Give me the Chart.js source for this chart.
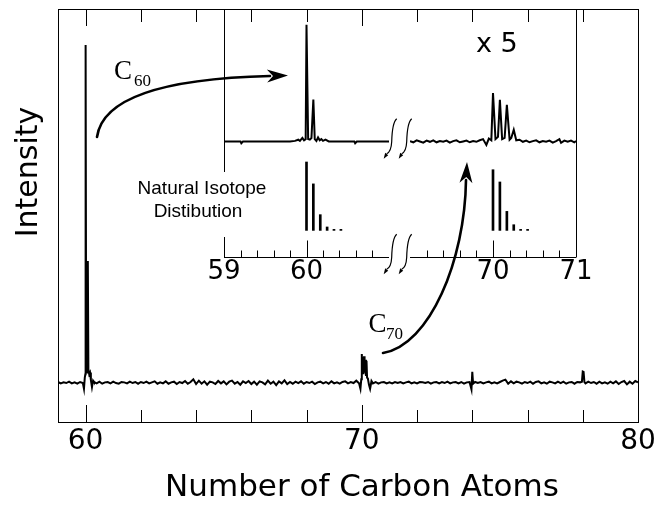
<!DOCTYPE html>
<html>
<head>
<meta charset="utf-8">
<script src="https://cdn.jsdelivr.net/npm/chart.js@4/dist/chart.umd.min.js"></script>
<style>
  body { margin: 0; background: #fff; }
  #wrap { position: relative; width: 659px; height: 508px; }
  canvas { position: absolute; top: 0; }
</style>
</head>
<body>
<div id="wrap">
  <canvas id="main" width="659" height="508" style="left:0"></canvas>
  <canvas id="insetL" width="215" height="300" style="left:190px"></canvas>
  <canvas id="insetR" width="215" height="300" style="left:395px"></canvas>
</div>
<script>
// main spectrum (number of carbon atoms vs intensity, C60 peak = 100)
const mainX = [
  59.0, 59.1, 59.2, 59.3, 59.4, 59.5, 59.6, 59.7, 59.8, 59.9,
  59.94, 59.97, 59.99, 60.0, 60.02, 60.04, 60.06, 60.08, 60.1, 60.13, 60.16, 60.19, 60.23, 60.27,
  60.3, 60.4, 60.5, 60.6, 60.7, 60.8, 60.9,
  61.0, 61.1, 61.2, 61.3, 61.4, 61.5, 61.6, 61.7, 61.8, 61.9,
  62.0, 62.1, 62.2, 62.3, 62.4, 62.5, 62.6, 62.7, 62.8, 62.9,
  63.0, 63.1, 63.2, 63.3, 63.4, 63.5, 63.6, 63.7, 63.8, 63.9,
  64.0, 64.1, 64.2, 64.3, 64.4, 64.5, 64.6, 64.7, 64.8, 64.9,
  65.0, 65.1, 65.2, 65.3, 65.4, 65.5, 65.6, 65.7, 65.8, 65.9,
  66.0, 66.1, 66.2, 66.3, 66.4, 66.5, 66.6, 66.7, 66.8, 66.9,
  67.0, 67.1, 67.2, 67.3, 67.4, 67.5, 67.6, 67.7, 67.8, 67.9,
  68.0, 68.1, 68.2, 68.3, 68.4, 68.5, 68.6, 68.7, 68.8, 68.9,
  69.0, 69.1, 69.2, 69.3, 69.4, 69.5, 69.6, 69.7, 69.8, 69.9,
  69.95, 69.98, 70.0, 70.02, 70.04, 70.06, 70.08, 70.1, 70.13, 70.15, 70.17, 70.19, 70.22, 70.26, 70.3, 70.35,
  70.4, 70.5, 70.6, 70.7, 70.8, 70.9,
  71.0, 71.1, 71.2, 71.3, 71.4, 71.5, 71.6, 71.7, 71.8, 71.9,
  72.0, 72.1, 72.2, 72.3, 72.4, 72.5, 72.6, 72.7, 72.8, 72.9,
  73.0, 73.1, 73.2, 73.3, 73.4, 73.5, 73.6, 73.7, 73.8, 73.9,
  73.97, 74.0, 74.03,
  74.1, 74.2, 74.3, 74.4, 74.5, 74.6, 74.7, 74.8, 74.9,
  75.0, 75.1, 75.2, 75.3, 75.4, 75.5, 75.6, 75.7, 75.8, 75.9,
  76.0, 76.1, 76.2, 76.3, 76.4, 76.5, 76.6, 76.7, 76.8, 76.9,
  77.0, 77.1, 77.2, 77.3, 77.4, 77.5, 77.6, 77.7, 77.8, 77.9,
  77.97, 78.0, 78.03, 78.06,
  78.1, 78.2, 78.3, 78.4, 78.5, 78.6, 78.7, 78.8, 78.9,
  79.0, 79.1, 79.2, 79.3, 79.4, 79.5, 79.6, 79.7, 79.8, 79.9,
  80.0
];
const mainY = [
  0.2, -0.2, 0.1, -0.1, 0.3, -0.2, 0.1, -0.3, 0.2, -0.1,
  -1.8, 1.5, 2.5, 100, 4, 6, 3, 36, 4, 2.5, 3, 0.8, -1.3, 0.6,
  0.2, -0.2, 0.3, -0.3, 0.1, 0.2, -0.2,
  0.3, -0.1, -0.3, 0.2, 0.1, -0.2, 0.3, -0.1, 0.2, -0.3,
  0.2, -0.1, 0.3, -0.2, 0.1, 0.4, -0.3, 0.1, -0.2, 0.4,
  -0.3, 0.1, 0.3, -0.4, 0.2, -0.1, 0.5, -0.3, 0.2, 1.0,
  -0.4, 0.6, -0.3, 0.4, -0.6, 0.3, 0.1, -0.4, 0.5, -0.2,
  0.4, -0.5, 0.3, 0.6, -0.3, 0.2, -0.6, 0.4, -0.1, 0.5,
  -0.4, 0.3, -0.6, 0.4, 0.1, -0.5, 0.6, -0.3, 0.3, -0.7,
  0.4, -0.2, 0.7, -0.4, 0.2, -0.3, 0.3, -0.1, 0.4, -0.3,
  0.2, -0.1, 0.3, -0.4, 0.1, 0.3, -0.2, 0.2, -0.3, 0.4,
  -0.2, 0.1, -0.3, 0.2, 0.4, -0.2, 0.2, -0.1, 0.6, -0.2,
  -1.8, 1.0, 8.5, 3, 7.5, 2.5, 7.8, 3, 6.8, 2, 6.5, 1.5, 1.2, -0.6, -1.8, 0.5,
  -0.2, 0.2, -0.3, 0.1, 0.2, -0.2,
  0.1, -0.2, 0.2, -0.1, 0.2, -0.2, 0.1, 0.3, -0.2, 0.1,
  -0.2, 0.2, 0.1, -0.1, 0.2, -0.3, 0.1, 0.2, -0.2, 0.2,
  -0.1, 0.3, -0.2, 0.1, 0.2, -0.2, 0.2, -0.3, 0.1, 0.2,
  -2.0, 3.2, -0.3,
  0.2, -0.1, 0.2, -0.2, 0.1, 0.3, -0.2, 0.1, -0.2,
  0.2, 0.6, 0.9, -0.3, 0.4, -0.2, 0.3, 0.1, -0.3, 0.2,
  -0.1, 0.3, -0.3, 0.2, 0.4, -0.2, 0.1, -0.3, 0.3, 0.1,
  -0.2, 0.3, -0.1, 0.3, -0.3, 0.1, 0.2, -0.3, 0.2, 0.1,
  0.3, 3.3, 3.2, 0.2,
  -0.2, 0.3, -0.1, 0.2, -0.3, 0.3, -0.2, 0.1, -0.3,
  0.3, -0.2, 0.4, -0.4, 0.2, 0.5, -0.5, 0.3, -0.3, 0.5,
  0.1
];
const xTicks = [60, 62, 64, 66, 68, 70, 72, 74, 76, 78, 80];
const xLabels = [60, 70, 80];

// inset, measured trace (x 5), left part 59-61 and right part 69-71
const insetLeftX = [59.0, 59.2, 59.21, 59.23, 59.5, 59.8, 59.86, 59.9, 59.92, 59.95, 59.97, 59.99,
  60.0, 60.02, 60.04, 60.06, 60.083, 60.1, 60.12, 60.14, 60.16, 60.18, 60.2, 60.23, 60.27, 60.3,
  60.5, 60.58, 60.59, 60.61, 61.0];
const insetLeftY = [0, 0, -1.5, 0, 0, 0, 0.5, 1.5, 0.5, 3, 1, 2,
  100, 2, 1.5, 3, 36, 2, 0.5, 3.5, 1, 2, 0.5, 1.5, 0, 0,
  0, 0, -1.5, 0, 0];
const insetRightX = [
  69.0, 69.04, 69.08, 69.12, 69.16, 69.2, 69.24, 69.28, 69.32, 69.36,
  69.4, 69.44, 69.48, 69.52, 69.56, 69.6, 69.64, 69.68, 69.72, 69.76,
  69.8, 69.84, 69.88, 69.92, 69.95, 69.98, 70.0, 70.03, 70.06, 70.083,
  70.11, 70.14, 70.167, 70.2, 70.22, 70.25, 70.28, 70.32, 70.36, 70.4,
  70.44, 70.48, 70.52, 70.56, 70.6, 70.64, 70.68, 70.72, 70.76, 70.8,
  70.82, 70.86, 70.9, 70.94, 70.98, 71.0
];
const insetRightY = [
  0.3, -0.7, 1, 0, -1, 0.7, -0.3, 1, -0.7, 0.3,
  -0.3, 0.7, -1, 0.3, 1, -0.7, 0, 0.7, -0.7, 0.3,
  -0.3, 1, 2, -3, 2.5, 1, 41.5, 2, 4, 35.7,
  2, 3, 31.4, 1.5, 3, 10, 1, 1.5, -0.3, 0.7,
  -0.7, 0.3, 1, -0.7, 0.3, -0.3, 0.7, -1, 0.3, 2,
  -1.2, 0.7, -0.3, 0.7, -0.7, 0.3
];

// inset, natural isotope distribution sticks
const isoC60X = [60, 60.083, 60.167, 60.25, 60.333, 60.417];
const isoC60Y = [100, 68, 23, 5, 1.5, 1.5];
const isoC70X = [70, 70.083, 70.167, 70.25, 70.333, 70.417];
const isoC70Y = [88.7, 70.8, 27.8, 8.3, 1.5, 1.5];

const insetLeftTicks = [59, 59.2, 59.4, 59.6, 59.8, 60, 60.2, 60.4, 60.6, 60.8, 61];
const insetRightTicks = [69, 69.2, 69.4, 69.6, 69.8, 70, 70.2, 70.4, 70.6, 70.8, 71];
const insetLeftLabels = [59, 60];
const insetRightLabels = [70, 71];

const SANS = '"DejaVu Sans", sans-serif';

function pts (xs, ys) {
  return xs.map((x, i) => ({ x: x, y: ys[i] }));
}

function line (ctx, x1, y1, x2, y2) {
  ctx.moveTo(x1, y1);
  ctx.lineTo(x2, y2);
}

function arrowHead (ctx, tx, ty, fx, fy) {
  const len = Math.hypot(tx - fx, ty - fy);
  const dx = (tx - fx) / len, dy = (ty - fy) / len;
  const nx = -dy, ny = dx;
  ctx.beginPath();
  ctx.moveTo(tx, ty);
  ctx.lineTo(tx - 21 * dx + 6.5 * nx, ty - 21 * dy + 6.5 * ny);
  ctx.lineTo(tx - 15 * dx, ty - 15 * dy);
  ctx.lineTo(tx - 21 * dx - 6.5 * nx, ty - 21 * dy - 6.5 * ny);
  ctx.closePath();
  ctx.fill();
}

function squiggle (ctx, cx, cy) {
  ctx.beginPath();
  ctx.moveTo(cx + 5, cy - 23);
  ctx.quadraticCurveTo(cx + 0.5, cy - 19, cx, cy);
  ctx.quadraticCurveTo(cx - 0.5, cy + 10, cx - 5, cy + 12);
  ctx.stroke();
  ctx.beginPath();
  ctx.moveTo(cx - 8, cy + 17);
  ctx.lineTo(cx - 6.5, cy + 11);
  ctx.lineTo(cx - 3.5, cy + 13.5);
  ctx.closePath();
  ctx.fill();
}

const mainDecor = {
  id: 'mainDecor',
  afterDraw (chart) {
    const { ctx, chartArea: a, scales: { x } } = chart;
    ctx.save();
    ctx.strokeStyle = '#000';
    ctx.fillStyle = '#000';

    // inset background
    ctx.fillStyle = '#fff';
    ctx.fillRect(224, a.top, 353, 248);

    // frame and inner ticks
    ctx.lineWidth = 1;
    ctx.strokeRect(a.left + 0.5, a.top + 0.5, a.right - a.left, a.bottom - a.top);
    ctx.beginPath();
    xTicks.forEach(v => {
      const px = Math.round(x.getPixelForValue(v)) + 0.5;
      const major = xLabels.includes(v);
      line(ctx, px, a.bottom, px, a.bottom - (major ? 17 : 12));
      line(ctx, px, a.top, px, a.top + (major ? 17 : 13));
    });
    // inset side frames
    line(ctx, 224.5, a.top, 224.5, 257.5);
    line(ctx, 576.5, a.top, 576.5, 257.5);
    ctx.stroke();

    // natural isotope label on a white box
    ctx.fillStyle = '#fff';
    ctx.fillRect(136, 172, 132, 65);
    ctx.fillStyle = '#000';
    ctx.font = '19px "Liberation Sans", Arial, sans-serif';
    ctx.textAlign = 'center';
    ctx.fillText('Natural Isotope', 202, 193.5);
    ctx.fillText('Distibution', 198, 216.5);

    // axis break marks
    ctx.lineWidth = 1.2;
    [391.7, 406.7].forEach(cx => {
      squiggle(ctx, cx, 141.7);
      squiggle(ctx, cx, 257.3);
    });

    // C60 arrow
    ctx.lineWidth = 2.6;
    ctx.lineCap = 'round';
    ctx.beginPath();
    ctx.moveTo(97, 137);
    ctx.quadraticCurveTo(105, 80, 270, 76);
    ctx.stroke();
    arrowHead(ctx, 288, 75.5, 270, 76);

    // C70 arrow
    ctx.beginPath();
    ctx.moveTo(383, 353);
    ctx.bezierCurveTo(430, 345, 465, 260, 466, 180);
    ctx.stroke();
    arrowHead(ctx, 467, 162, 466, 182);

    // labels
    ctx.textAlign = 'left';
    ctx.font = '27px "Liberation Serif", serif';
    ctx.fillText('C', 114, 78.5);
    ctx.fillText('C', 368.5, 331.7);
    ctx.font = '17px "Liberation Serif", serif';
    ctx.fillText('60', 134, 86);
    ctx.fillText('70', 386, 339.3);

    ctx.font = '27px ' + SANS;
    ctx.fillText('x 5', 476, 51.7);

    // axis titles
    ctx.font = '31px ' + SANS;
    ctx.textAlign = 'center';
    ctx.fillText('Number of Carbon Atoms', 362, 496);
    ctx.font = '30px ' + SANS;
    ctx.translate(37, 172);
    ctx.rotate(-Math.PI / 2);
    ctx.fillText('Intensity', 0, 0);
    ctx.restore();
  }
};

new Chart(document.getElementById('main'), {
  type: 'line',
  data: {
    datasets: [{
      data: pts(mainX, mainY),
      borderColor: '#000',
      borderWidth: 2,
      pointRadius: 0,
      tension: 0
    }]
  },
  options: {
    responsive: false,
    animation: false,
    events: [],
    layout: { padding: { left: 58, top: 9, right: 21, bottom: 0 } },
    plugins: { legend: { display: false }, tooltip: { enabled: false } },
    scales: {
      x: {
        type: 'linear',
        min: 59,
        max: 80,
        afterBuildTicks: s => { s.ticks = xTicks.map(v => ({ value: v })); },
        afterFit: s => { s.height = 86; },
        grid: { display: false, drawTicks: false },
        border: { display: false },
        ticks: {
          autoSkip: false,
          maxRotation: 0,
          minRotation: 0,
          padding: 3,
          color: '#000',
          font: { family: SANS, size: 28 },
          callback: v => xLabels.includes(v) ? String(v) : ''
        }
      },
      y: { display: false, min: -11.64, max: 110.66 }
    }
  },
  plugins: [mainDecor]
});

const insetAxis = {
  id: 'insetAxis',
  afterDraw (chart, args, opts) {
    const { ctx, chartArea: a, scales: { x } } = chart;
    const y0 = Math.round(a.bottom) + 0.5;
    ctx.save();
    ctx.strokeStyle = '#000';
    ctx.lineWidth = 1;
    ctx.beginPath();
    line(ctx, a.left, y0, a.right, y0);
    x.ticks.forEach(t => {
      if (opts.skip.includes(t.value)) {
        return;
      }
      const px = Math.round(x.getPixelForValue(t.value)) + 0.5;
      line(ctx, px, y0, px, y0 - (opts.major.includes(t.value) ? 17 : 7));
    });
    ctx.stroke();
    ctx.restore();
  }
};

function drawInset (elementId, xMin, xMax, trace, sticks, ticks, labels, padding, skip, major) {
  return new Chart(document.getElementById(elementId), {
    type: 'line',
    data: {
      datasets: [{
        data: trace,
        yAxisID: 'y',
        borderColor: '#000',
        borderWidth: 2,
        pointRadius: 0,
        tension: 0
      }, {
        type: 'bar',
        data: sticks,
        yAxisID: 'y2',
        backgroundColor: '#000',
        barThickness: 2
      }]
    },
    options: {
      responsive: false,
      animation: false,
      events: [],
      layout: { padding: padding },
      plugins: {
        legend: { display: false },
        tooltip: { enabled: false },
        insetAxis: { skip: skip, major: major }
      },
      scales: {
        x: {
          type: 'linear',
          min: xMin,
          max: xMax,
          offset: false,
          afterBuildTicks: s => { s.ticks = ticks.map(v => ({ value: v })); },
          afterFit: s => { s.height = 43; },
          grid: { display: false, drawTicks: false },
          border: { display: false },
          ticks: {
            autoSkip: false,
            maxRotation: 0,
            minRotation: 0,
            padding: 0,
            color: '#000',
            font: { family: SANS, size: 26 },
            callback: v => labels.includes(v) ? String(v) : ''
          }
        },
        y: { display: false, min: -99, max: 113.5 },
        y2: { display: false, min: -38.9, max: 323.7 }
      }
    },
    plugins: [insetAxis]
  });
}

drawInset('insetL', 59, 61, pts(insetLeftX, insetLeftY), pts(isoC60X, isoC60Y),
  insetLeftTicks, insetLeftLabels, { left: 34, right: 16, top: 9, bottom: 0 }, [59, 61], [60]);
drawInset('insetR', 69, 71, pts(insetRightX, insetRightY), pts(isoC70X, isoC70Y),
  insetRightTicks, insetRightLabels, { left: 15, right: 34, top: 9, bottom: 0 }, [69, 71], [70]);
</script>
</body>
</html>
